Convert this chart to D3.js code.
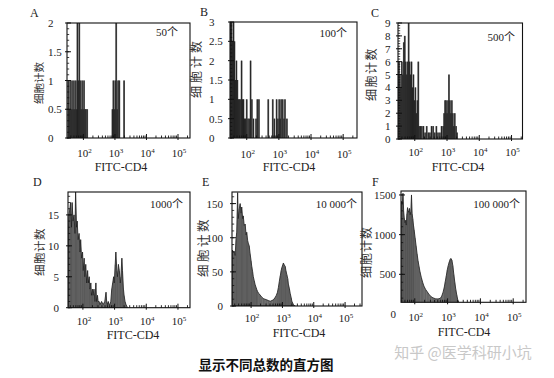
<!DOCTYPE html>
<html>
<head>
<meta charset="utf-8">
<script src="https://cdn.jsdelivr.net/npm/d3@7"></script>
<style>
body{margin:0;background:#fff;}
svg{display:block;}
</style>
</head>
<body>
<div id="okvir"></div>
<script>
// polozaji (log10 intenziteta) i broj stanica za svaki panel
const posA = [1.52,1.55,1.58,1.61,1.64,1.67,1.70,1.73,1.76,1.79,1.81,1.84,1.87,1.90,1.93,1.96,1.99,2.02,2.05,2.08,2.12,2.92,2.95,2.98,3.01,3.04,3.07,3.10,3.14,3.29];
const cntA = [1,0.5,1,0.5,1,0.5,1,0.5,1,0.5,2,1,2,1,0.5,1,0.5,1,0.5,0.5,0.5,0.5,1,0.5,1,2,0.5,1,1,1];

const posB = [1.50,1.53,1.56,1.59,1.62,1.65,1.68,1.71,1.74,1.77,1.80,1.84,1.87,1.90,1.93,1.96,2.00,2.04,2.08,2.12,2.16,2.21,2.29,2.33,2.38,2.67,2.81,2.86,2.93,2.97,3.01,3.04,3.07,3.12,3.16,3.19,3.25];
const cntB = [3,3,2.5,3,2.5,1.5,2,1.5,1,1,1,2,1,1,0.5,0.5,1,0.5,0.5,2,1,0.5,0.5,1,1,1,1,0.5,1,0.5,1,0.5,1,1,0.5,1,0.5];

const posC = [1.48,1.51,1.54,1.57,1.60,1.63,1.66,1.69,1.72,1.75,1.78,1.81,1.84,1.87,1.90,1.93,1.96,1.99,2.02,2.05,2.08,2.11,2.14,
              2.18,2.22,2.27,2.32,2.37,2.42,2.47,2.52,2.57,2.62,2.67,2.72,2.78,2.83,2.88,
              2.91,2.94,2.97,3.00,3.03,3.06,3.09,3.12,3.15,3.18,3.21,3.24,3.28,3.31];
const cntC = [5,6,5,4,6,5,7.5,8,6,5,6,9,6,5,6,4,5,3,4,2,3,6,1,
              1,1,1,0.5,1,0.5,0.5,1,1,0.5,1,0.5,0.5,1,1,
              2,3,3,2,3,5,3,2,3,2,1,2,1,0.5];

const posD = [1.54,1.56,1.59,1.61,1.64,1.66,1.69,1.72,1.75,1.77,1.80,1.82,1.85,1.88,1.91,1.93,1.96,1.99,2.01,2.04,
              2.06,2.09,2.12,2.15,2.17,2.20,2.22,2.25,2.27,2.30,2.32,2.35,2.38,2.41,2.43,2.46,2.48,2.51,2.54,2.59,
              2.64,2.69,2.73,2.75,2.78,2.80,2.83,2.85,2.88,2.91,2.94,2.97,2.99,3.02,3.04,3.07,3.09,3.12,3.15,3.18,
              3.20,3.23,3.25,3.28,3.30,3.33,3.36,3.41];
const cntD = [12,15,16,17,13,17,14,15,12,19,13,14,11,12,9,11,8,9,6,8,
              5,7,4,6,4,5,3,4,2,3,2,3,1,4,1,2,1,1,0.5,1,
              0.5,1,2.5,1,0.5,1,0.5,0.5,1,3,4,5,4,7,9,6,5,7,6,4,
              5,8,6,3,2,1,0.5,0];

const posE = [1.40,1.43,1.46,1.49,1.52,1.54,1.57,1.59,1.62,1.65,1.68,1.70,1.73,1.75,1.78,1.81,1.84,1.86,1.89,1.91,
              1.94,1.97,2.00,2.02,2.05,2.07,2.10,2.13,2.16,2.18,2.21,2.25,2.29,2.34,2.39,2.44,2.50,2.55,2.61,2.66,
              2.71,2.76,2.80,2.84,2.87,2.90,2.93,2.96,2.98,3.01,3.03,3.06,3.09,3.11,3.14,3.17,3.19,3.22,3.25,3.28,
              3.30,3.33,3.36,3.41];
const cntE = [82,78,80,74,98,108,166,128,142,150,136,145,128,132,118,120,104,108,96,92,
              88,76,66,58,50,43,37,31,27,24,21,18,16,13,11,10,9,8,7,8,
              9,12,15,20,27,36,44,52,56,60,63,60,58,52,46,40,32,26,18,12,
              7,4,1,0];

const posF = [1.60,1.62,1.64,1.66,1.68,1.70,1.72,1.74,1.76,1.78,1.80,1.82,1.84,1.86,1.88,1.90,1.92,1.94,1.96,1.98,
              2.01,2.04,2.07,2.10,2.13,2.16,2.20,2.24,2.28,2.33,2.38,2.43,2.48,2.53,2.58,2.63,2.68,2.73,2.78,
              2.82,2.86,2.90,2.93,2.96,2.99,3.02,3.05,3.08,3.10,3.13,3.16,3.19,3.22,3.25,3.28,3.31,3.35,3.40];
const cntF = [1420,1380,1520,1300,1210,1150,1180,1120,1260,1340,1300,1280,1330,1250,1290,1500,1260,1200,1120,1060,
              960,860,760,670,600,530,460,400,350,310,280,250,225,210,200,192,190,192,198,
              225,270,340,410,480,555,610,655,690,700,680,610,500,400,310,240,180,140,110];

// oznake osi
const yTicksA = [0,0.5,1,1.5,2];
const yTicksB = [0,0.5,1,1.5,2,2.5,3];
const yTicksC = [0,1,2,3,4,5,6,7,8,9];
const yTicksD = [0,5,10,15];
const yTicksE = [0,50,100,150];
const yTicksF = [0,500,1000,1500];
const xDecades = [2,3,4,5];
const panelLetters = ["A","B","C","D","E","F"];
const totals = ["50个","100个","500个","1000个","10 000个","100 000个"];
const yTitle = "细胞计数";
const xTitle = "FITC-CD4";

const serif = "'Liberation Serif','Noto Sans CJK SC',serif";
const cjk = "'Noto Sans CJK SC',sans-serif";

const okvir = d3.select("#okvir")
    .append("svg")
        .attr("width", 554)
        .attr("height", 378);

// raspored panela (piksele procijenjene sa slike)
const paneli = [
    {pos:posA, cnt:cntA, yt:yTicksA, minor:0.1, mode:"spike",
     x0:67, x1:190, y0:23, y1:138, yZero:138, yMax:2, exp:[1.48,5.38],
     yLabX:48, yLabAnchor:"start", tickY:157, ttlX:121, ttlY:171,
     letX:30, letY:17, totX:178, totY:36, yTx:39, yTy:83, yTfs:10.5, yTls:0},
    {pos:posB, cnt:cntB, yt:yTicksB, minor:0.1, mode:"spike",
     x0:230, x1:357, y0:22, y1:138, yZero:138, yMax:3, exp:[1.48,5.43],
     yLabX:209, yLabAnchor:"start", tickY:158, ttlX:289, ttlY:171,
     letX:200, letY:16, totX:347, totY:37, yTx:197, yTy:68, yTfs:12, yTls:3},
    {pos:posC, cnt:cntC, yt:yTicksC, minor:0.2, mode:"spike",
     x0:398, x1:522.5, y0:23, y1:139, yZero:139, yMax:9, exp:[1.48,5.34],
     yLabX:385, yLabAnchor:"start", tickY:156, ttlX:458, ttlY:171,
     letX:371, letY:17, totX:515, totY:41, yTx:372, yTy:74, yTfs:12, yTls:1.5},
    {pos:posD, cnt:cntD, yt:yTicksD, minor:1, mode:"area",
     x0:68, x1:190, y0:192, y1:307.7, yZero:307.7, yMax:18.7, exp:[1.53,5.38],
     yLabX:59, yLabAnchor:"end", tickY:325, ttlX:133, ttlY:339,
     letX:33, letY:186, totX:183, totY:208, yTx:40, yTy:252, yTfs:11.5, yTls:0.5},
    {pos:posE, cnt:cntE, yt:yTicksE, minor:10, mode:"area",
     x0:232, x1:362, y0:192, y1:306, yZero:306, yMax:167, exp:[1.39,5.54],
     yLabX:223, yLabAnchor:"end", tickY:322, ttlX:299, ttlY:337,
     letX:202, letY:186, totX:357, totY:208, yTx:204, yTy:247, yTfs:12.5, yTls:2.5},
    {pos:posF, cnt:cntF, yt:yTicksF, minor:100, mode:"area",
     x0:401, x1:526, y0:191, y1:302.3, yZero:314, yMax:1550, exp:[1.58,5.39],
     yLabX:396, yLabAnchor:"end", tickY:321, ttlX:464, ttlY:336,
     letX:372, letY:186, totX:520, totY:208, yTx:367, yTy:252, yTfs:12, yTls:1}
];

const crtajPanel = (p, i) => {
    const g = okvir.append("g");

    const xSkala = d3.scaleLog()
        .domain([10 ** p.exp[0], 10 ** p.exp[1]])
        .range([p.x0, p.x1]);
    const ySkala = d3.scaleLinear()
        .domain([0, p.yMax])
        .range([p.yZero, p.y0]);

    const podatci = p.pos.map((e, j) => ({v: 10 ** e, c: p.cnt[j]}));

    // clip na okvir grafa
    const clipId = "clip" + i;
    g.append("clipPath").attr("id", clipId)
        .append("rect")
            .attr("x", p.x0).attr("y", p.y0)
            .attr("width", p.x1 - p.x0).attr("height", p.y1 - p.y0);

    const tijelo = g.append("g").attr("clip-path", `url(#${clipId})`);

    if (p.mode === "spike") {
        tijelo.selectAll("rect")
            .data(podatci)
            .join("rect")
                .attr("x", d => xSkala(d.v) - 0.9)
                .attr("y", d => ySkala(d.c))
                .attr("width", 1.8)
                .attr("height", d => ySkala(0) - ySkala(d.c))
                .attr("fill", "#6a6a6a");
        tijelo.selectAll("line")
            .data(podatci)
            .join("line")
                .attr("x1", d => xSkala(d.v)).attr("x2", d => xSkala(d.v))
                .attr("y1", ySkala(0)).attr("y2", d => ySkala(d.c))
                .attr("stroke", "#111")
                .attr("stroke-width", 0.8);
    } else {
        const povrsina = d3.area()
            .x(d => xSkala(d.v))
            .y0(ySkala(0))
            .y1(d => ySkala(d.c));
        tijelo.append("path")
            .datum(podatci)
            .attr("d", povrsina)
            .attr("fill", "#7a7a7a")
            .attr("stroke", "#1a1a1a")
            .attr("stroke-width", 0.8);
        // tekstura okomitih linija
        tijelo.selectAll("line")
            .data(podatci)
            .join("line")
                .attr("x1", d => xSkala(d.v)).attr("x2", d => xSkala(d.v))
                .attr("y1", ySkala(0)).attr("y2", d => ySkala(d.c))
                .attr("stroke", "#333")
                .attr("stroke-width", 0.6)
                .attr("opacity", 0.6);
    }

    // okvir
    g.append("rect")
        .attr("x", p.x0).attr("y", p.y0)
        .attr("width", p.x1 - p.x0).attr("height", p.y1 - p.y0)
        .attr("fill", "none")
        .attr("stroke", "#111")
        .attr("stroke-width", 1.1);

    // x os - glavne i sporedne crtice prema unutra
    const sporedne = [];
    for (let dek = Math.floor(p.exp[0]); dek <= Math.ceil(p.exp[1]); dek++) {
        for (let m = 2; m <= 9; m++) {
            const v = m * 10 ** dek;
            if (v > 10 ** p.exp[0] && v < 10 ** p.exp[1]) sporedne.push(v);
        }
    }
    g.selectAll(".xmin")
        .data(sporedne)
        .join("line")
            .attr("class", "xmin")
            .attr("x1", d => xSkala(d)).attr("x2", d => xSkala(d))
            .attr("y1", p.y1).attr("y2", p.y1 - 2.5)
            .attr("stroke", "#111").attr("stroke-width", 0.9);
    g.selectAll(".xmaj")
        .data(xDecades)
        .join("line")
            .attr("class", "xmaj")
            .attr("x1", d => xSkala(10 ** d)).attr("x2", d => xSkala(10 ** d))
            .attr("y1", p.y1 + 2).attr("y2", p.y1 - 4)
            .attr("stroke", "#111").attr("stroke-width", 1);

    const xOznake = g.selectAll(".xlab")
        .data(xDecades)
        .join("text")
            .attr("class", "xlab")
            .attr("x", d => xSkala(10 ** d) + 1)
            .attr("y", p.tickY)
            .attr("text-anchor", "middle")
            .style("font-family", serif)
            .style("font-size", "11px")
            .attr("fill", "#222");
    xOznake.append("tspan").text("10");
    xOznake.append("tspan")
        .attr("dy", -4)
        .style("font-size", "7px")
        .text(d => d);

    // y os
    const yMinor = d3.range(0, p.yMax, p.minor)
        .filter(v => ySkala(v) <= p.y1 + 0.1 && ySkala(v) >= p.y0);
    g.selectAll(".ymin")
        .data(yMinor)
        .join("line")
            .attr("class", "ymin")
            .attr("x1", p.x0).attr("x2", p.x0 + 2.2)
            .attr("y1", d => ySkala(d)).attr("y2", d => ySkala(d))
            .attr("stroke", "#111").attr("stroke-width", 0.8);
    g.selectAll(".ymaj")
        .data(p.yt.filter(v => ySkala(v) <= p.y1 + 0.1))
        .join("line")
            .attr("class", "ymaj")
            .attr("x1", p.x0 - 2).attr("x2", p.x0 + 4)
            .attr("y1", d => ySkala(d)).attr("y2", d => ySkala(d))
            .attr("stroke", "#111").attr("stroke-width", 1);
    g.selectAll(".ylab")
        .data(p.yt)
        .join("text")
            .attr("class", "ylab")
            .attr("x", p.yLabX)
            .attr("y", d => ySkala(d) + 4)
            .attr("text-anchor", p.yLabAnchor)
            .style("font-family", serif)
            .style("font-size", "11px")
            .attr("fill", "#222")
            .text(d => d);

    // naslovi osi i oznake
    g.append("text")
        .attr("x", p.ttlX).attr("y", p.ttlY)
        .attr("text-anchor", "middle")
        .style("font-family", serif)
        .style("font-size", "12px")
        .attr("fill", "#222")
        .text(xTitle);

    g.append("text")
        .attr("transform", `translate(${p.yTx},${p.yTy}) rotate(-90)`)
        .attr("text-anchor", "middle")
        .attr("dy", "0.35em")
        .style("font-family", cjk)
        .style("font-size", p.yTfs + "px")
        .style("letter-spacing", p.yTls + "px")
        .attr("fill", "#333")
        .text(yTitle);

    g.append("text")
        .attr("x", p.letX).attr("y", p.letY)
        .style("font-family", serif)
        .style("font-size", "12px")
        .attr("fill", "#222")
        .text(panelLetters[i]);

    g.append("text")
        .attr("x", p.totX).attr("y", p.totY)
        .attr("text-anchor", "end")
        .style("font-family", serif)
        .style("font-size", "11px")
        .attr("fill", "#222")
        .text(totals[i]);
};

paneli.forEach(crtajPanel);

// potpis
okvir.append("text")
    .attr("x", 266).attr("y", 370)
    .attr("text-anchor", "middle")
    .style("font-family", cjk)
    .style("font-weight", "bold")
    .style("font-size", "13.5px")
    .attr("fill", "#111")
    .text("显示不同总数的直方图");

okvir.append("text")
    .attr("x", 463).attr("y", 358)
    .attr("text-anchor", "middle")
    .style("font-family", cjk)
    .style("font-size", "15px")
    .attr("fill", "#c8c8c8")
    .text("知乎 @医学科研小坑");
</script>
</body>
</html>
